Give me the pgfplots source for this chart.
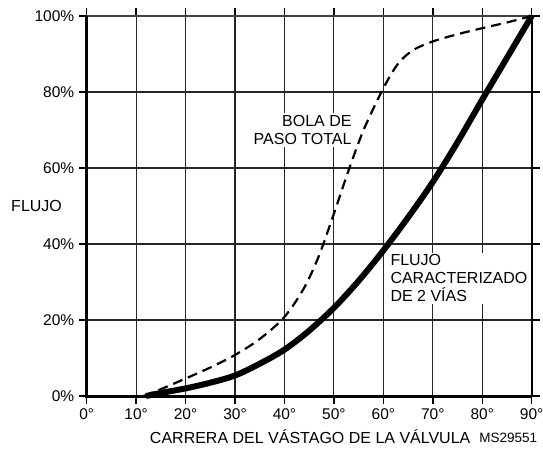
\documentclass[border=0pt]{standalone}
\usepackage{pgfplots}
\pgfplotsset{compat=1.18}
\usepackage{fontspec}
\setmainfont{Liberation Sans}
\pgfplotstableread{
x y
12 0
15 0.8
20 2.0
25 3.5
30 5.4
35 8.5
40 12.2
45 17.2
50 23.2
55 30.3
60 38.3
65 47.0
70 56.3
75 66.8
80 78.0
85 89.0
90 100
}\solid
\pgfplotstableread{
x y
11.5 0
15 1.8
20 4.6
25 7.5
30 10.8
35 15.0
40 20.8
44 28.5
47 37
50 48
53 59.5
56 70
60 81
63 87.5
66 91
70 93.3
75 95.2
80 96.8
85 98.3
90 100
}\ball
\begin{document}
\begin{tikzpicture}[x=1pt,y=1pt]
\begin{axis}[
 scale only axis, width=445pt, height=380pt,
 xmin=0, xmax=90, ymin=0, ymax=100,
 xtick={0,10,...,90}, ytick={0,20,...,100},
 xticklabels={0°,10°,20°,30°,40°,50°,60°,70°,80°,90°},
 yticklabels={0\%,20\%,40\%,60\%,80\%,100\%},
 tick align=outside, major tick length=8pt,
 tick style={line width=1.4pt, black},
 grid=major, major grid style={line width=1.1pt, black!85},
 axis line style={line width=1.2pt, black!75},
 tick label style={font=\fontsize{15.5}{15.5}\selectfont},
 yticklabel style={xshift=-1pt},
 xticklabel style={yshift=-1pt},
 clip=false,
]
\draw[line width=3pt, black] (rel axis cs:0,1) -- (rel axis cs:0,0) -- (rel axis cs:1,0);
\draw[line width=2.2pt, black] (rel axis cs:1,0) -- (rel axis cs:1,1);
\node[fill=white, align=right, anchor=east, inner sep=2pt, font=\fontsize{16}{18}\selectfont] at (axis cs:54,70) {BOLA DE\\PASO TOTAL};
\node[fill=white, align=left, anchor=west, inner sep=2pt, font=\fontsize{16}{18}\selectfont] at (axis cs:61,31) {FLUJO\\CARACTERIZADO\\DE 2 VÍAS};
\addplot[black, line width=2.2pt, dash pattern=on 10pt off 6pt, smooth, tension=0.5] table {\ball};
\addplot[black, line width=6pt, smooth, tension=0.5] table {\solid};
\node[anchor=west, font=\fontsize{16}{16}\selectfont] at ([xshift=-79pt]axis cs:0,50) {FLUJO};
\node[font=\fontsize{16}{16}\selectfont] at ([yshift=-41pt]axis cs:45.2,0) {CARRERA DEL VÁSTAGO DE LA VÁLVULA};
\node[anchor=east, font=\fontsize{13.5}{13.5}\selectfont] at ([xshift=9pt,yshift=-42pt]axis cs:90,0) {MS29551};
\end{axis}
\pgfresetboundingbox
\path[use as bounding box] (-86.7pt,-54pt) rectangle (456.3pt,396pt);
\end{tikzpicture}
\end{document}
